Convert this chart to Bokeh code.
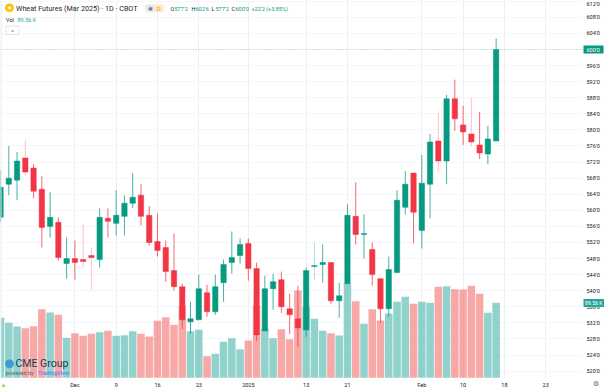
from bokeh.embed import file_html
from bokeh.resources import INLINE
from bokeh.plotting import figure
from bokeh.models import Range1d, FixedTicker, Label, Span

title_text = "Wheat Futures (Mar 2025) · 1D · CBOT"
opens = [558.25,566.5,567.5,573,570.5,565.25,556,557,546.75,548,547.75,548.75,547.75,558,556.75,558.5,561.75,563.75,558.75,552.25,
         550.75,545,541,532.25,532.75,539.5,534.75,542,547,548.75,551.75,545.5,530,540.5,542.75,535.5,533,530.25,546,546.5,
         547,537.5,541.75,558.5,554,550.25,543,535.5,544.5,560.75,569.25,555,566.5,577.25,572.25,587.75,581.25,579,576.25,574,577.25]
highs = [570,576,574.5,577.5,571.5,568.5,564.5,558.25,553.25,552.5,556.5,550.75,560.5,560.5,565,563.75,569.25,566.5,561,559.25,
         552.5,554.25,541.75,537.25,544,541.5,544,547.75,554.75,553,553,547,543.75,544.25,544.75,539.25,541.25,545.75,552,551.5,
         547,542,561.5,567,559,552,543,548.5,565,569.75,569.25,573.75,579,584.25,588.75,592.5,586,588,584.5,581,602.75]
lows = [557,563.75,562.5,568.5,563,550.75,553.25,547.5,543,542.75,545.75,540.25,545.75,553.25,553.75,553.75,560.5,556.25,551.25,548.5,
        542.25,540,530.5,529.25,532.75,533.5,534,537.25,544.25,546.75,542.5,527.5,530,535.25,534.5,529.25,526,528.5,542.75,542,
        536.75,533.25,541.75,551.5,548,541.25,532,533.5,544.5,559,551.75,550.5,558,569.5,566.5,579.75,576.25,576,572.75,571.5,577.25]
closes = [565.75,568,572.25,569.5,564.75,555.75,558.25,548.25,548,547,547.25,548.25,558.25,557.25,558.75,561.75,563.25,558.5,552,550,
          544.75,541,532.75,533,540.5,534.75,541,546.5,548.25,551.5,545.5,529,540.5,542.25,536,534,530.75,545,546.25,547,
          537.5,538.75,558.75,554,554.25,544,535.5,545.25,562.5,566.5,559.5,566.75,577,572.25,587.75,582.75,579.5,577,574.25,577.75,600]
volumes = [71.65,65.7,61.3,59.2,61.6,81.9,78,75.2,47.8,53.3,50.2,52.5,54.5,56.1,50.2,50.9,55.6,52.5,49.3,68.1,
           72.4,63.3,86.3,55.6,57.3,25.8,28.7,43,47.3,34.2,44.5,86.3,58.5,47.3,58,46.1,104.3,84.3,70.5,56.1,
           53.3,50.5,113,91.5,64.5,81.9,68.4,76.8,90.8,96.7,88.4,90.8,89.6,108.7,109.4,105.8,105.4,109.9,100.3,77.6,89.56]
price_ticks = list(range(520, 616, 4))
date_ticks = {9: "Dec", 14: "9", 19: "16", 24: "23", 30: "2025", 37: "13", 42: "21", 51: "Feb", 56: "10", 61: "18", 66: "23"}
pale_wicks = [3, 10, 11, 38, 53, 57]

UP, DOWN = "#089981", "#F23645"
VUP, VDOWN = "#26a69a", "#ef5350"
INK = "#131722"
FONT = "Roboto"
PX_X, PX_Y = 8.26, 4.02
FW, FH = 583, 378


def xd(px):
    return -0.005 + px / PX_X


def yd(py):
    return 612.19 - py / PX_Y


idx = list(range(len(closes)))
p = figure(frame_width=FW, frame_height=FH, output_backend="svg", toolbar_location=None,
           x_range=Range1d(xd(0), xd(FW)), y_range=Range1d(yd(FH), yd(0)),
           y_axis_location="right", min_border=0, background_fill_color="white",
           border_fill_color="white", outline_line_color=None)
p.styles = {"position": "absolute", "left": "0px", "top": "0px"}

p.extra_y_ranges = {"vol": Range1d(-0.84, 450.6)}

for ax, ticks in ((p.yaxis[0], price_ticks), (p.xaxis[0], list(date_ticks))):
    ax.ticker = FixedTicker(ticks=ticks)
    ax.axis_line_color = None
    ax.major_tick_line_color = None
    ax.minor_tick_line_color = None
    ax.major_tick_in = 0
    ax.major_tick_out = 0
    ax.minor_tick_in = 0
    ax.minor_tick_out = 0
    ax.major_label_text_font = FONT
    ax.major_label_text_font_size = "5.5px"
    ax.major_label_text_color = INK
    ax.major_label_standoff = 3
p.yaxis[0].major_label_overrides = {t: f"{t}'0" for t in price_ticks}
p.xaxis[0].major_label_overrides = date_ticks

p.xgrid.ticker = FixedTicker(ticks=list(date_ticks))
p.ygrid.ticker = FixedTicker(ticks=price_ticks)
p.xgrid.grid_line_color = "#eceff4"
p.ygrid.grid_line_color = "#f4f6fa"

cols = [UP if c >= o else DOWN for o, c in zip(opens, closes)]
vcols = [VUP if c >= o else VDOWN for o, c in zip(opens, closes)]
wick_alpha = [0.3 if i in pale_wicks else 0.75 for i in idx]

p.vbar(x=idx, top=volumes, bottom=0, width=0.91, fill_color=vcols, fill_alpha=0.5,
       line_color=None, y_range_name="vol")
p.segment(x0=idx, x1=idx, y0=lows, y1=highs, line_color=cols, line_alpha=wick_alpha, line_width=1)
p.vbar(x=idx, top=[max(a, b) for a, b in zip(opens, closes)],
       bottom=[min(a, b) for a, b in zip(opens, closes)], width=0.65,
       fill_color=cols, line_color=cols, line_width=0.5)

p.add_layout(Span(location=closes[-1], dimension="width", line_color=UP, line_alpha=0.35,
                  line_dash="1 2", line_width=1))
p.add_layout(Span(location=xd(0.5), dimension="height", line_color="#e0e3eb", line_width=1))

# transparent layer on top of the chart, its scales in page pixels: header, badges, watermark
q = figure(frame_width=604, frame_height=388, output_backend="svg", toolbar_location=None,
           x_range=Range1d(0, 604), y_range=Range1d(388, 0), x_axis_type=None, y_axis_type=None,
           min_border=0, background_fill_color=None, border_fill_color=None, outline_line_color=None)
q.styles = {"position": "absolute", "left": "0px", "top": "0px"}
q.grid.visible = False


def lab(px, py, text, size, color=INK, style="normal", font=FONT, align="left"):
    q.add_layout(Label(x=px, y=py, text=text, text_font=font, text_font_size=f"{size}px",
                       text_color=color, text_font_style=style, text_align=align,
                       text_baseline="middle"))


def box(x0, x1, y0, y1, color):
    q.quad(left=[x0], right=[x1], top=[y0], bottom=[y1], fill_color=color, line_color=None)


# header
q.scatter(x=[9], y=[7.3], size=8, color="#fbc515")
q.scatter(x=[9], y=[7.3], size=3, color="#ffffff", marker="diamond")
lab(15.5, 7.5, title_text, 7.2, "#24272f")
box(145, 154, 4, 11.7, "#e9eaee")
box(154, 163, 4, 11.7, "#ffe8cc")
lab(149.5, 8, "✱", 6, "#787b86", align="center")
lab(158, 8, "D", 6, "#ff9800", align="center")
for x0, head, x1, val in [(170, "O", 174, "577'2"), (191, "H", 195, "602'6"),
                          (211, "L", 215, "577'2"), (231, "C", 235, "600'0")]:
    lab(x0, 8, head, 5.5)
    lab(x1, 8, val, 5.5, UP)
lab(251, 8, "+22'2 (+3.85%)", 5.5, UP)
lab(5.5, 19, "Vol", 5.5)
lab(17, 19, "89.56 K", 5.5, VUP)
q.quad(left=[5.5], right=[18.5], top=[25.5], bottom=[34], fill_color="#ffffff",
       line_color="#e0e3eb", line_width=1)
lab(12, 30.5, "^", 6, "#4a4e5a", align="center")

# price badges on the axis
box(583, 603, 45, 53, UP)
lab(586, 49, "600'0", 5.5, "#ffffff")
box(583, 604, 298.5, 306.5, VUP)
lab(584.5, 302.5, "89.56 K", 5.2, "#ffffff")

# watermark
q.scatter(x=[9], y=[363.3], size=8, color="#3f9bd5")
lab(15, 363.3, "CME Group", 10.5, "#1c3a5e")
lab(5, 372.7, "powered by", 5.5, "#5a6070")
lab(37.5, 372.7, "TradingView", 5.5, "#6a8cf0", style="bold")

# corner marks
lab(0, 384, "▲", 6, "#7ed957")
lab(595, 383.5, "⚙", 7, "#6a6d78", align="center")

open("out.html", "w").write(file_html([p, q], INLINE))
